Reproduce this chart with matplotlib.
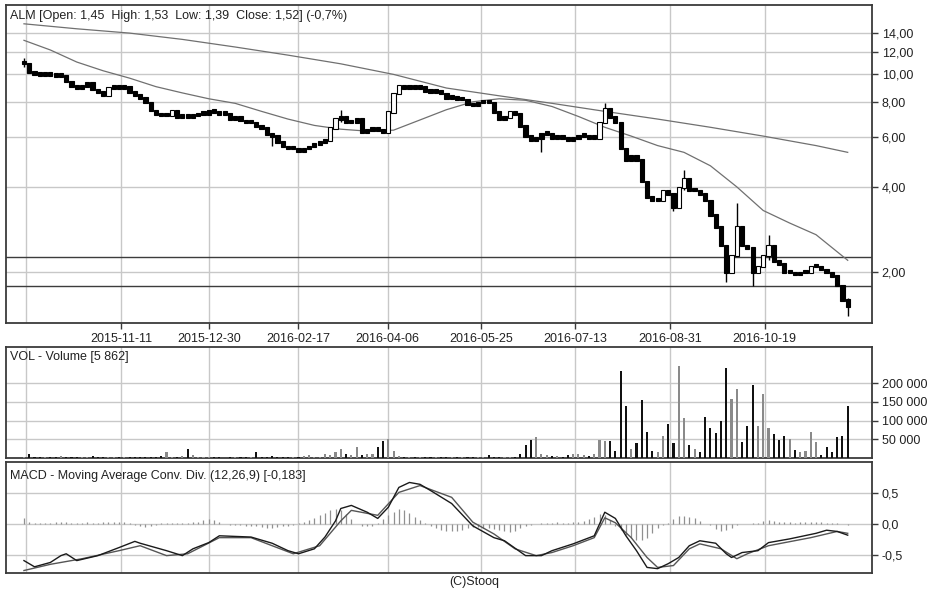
import numpy as np
import matplotlib
matplotlib.use("Agg")
import matplotlib.pyplot as plt

plt.rcParams['font.family'] = ['Liberation Sans', 'DejaVu Sans']

# ---------------- data (2-session bars) ----------------
close = [
    11.0, 10.2, 10.1, 10.0, 10.1, 10.0, 9.9, 9.95, 9.5, 9.1,
    9.0, 9.1, 9.4, 8.9, 8.7, 8.5, 9.0, 9.1, 9.0, 9.1,
    8.7, 8.5, 8.3, 8.0, 7.5, 7.3, 7.2, 7.2, 7.5, 7.1,
    7.2, 7.1, 7.2, 7.3, 7.3, 7.5, 7.4, 7.3, 7.3, 7.0,
    7.1, 6.9, 6.8, 6.8, 6.6, 6.5, 6.2, 6.1, 5.8, 5.6,
    5.5, 5.5, 5.4, 5.5, 5.6, 5.7, 5.8, 5.9, 6.5, 7.0,
    7.1, 6.8, 6.8, 7.0, 6.3, 6.4, 6.5, 6.4, 6.3, 7.4,
    8.6, 9.2, 9.0, 9.1, 9.0, 9.1, 8.8, 8.7, 8.8, 8.6,
    8.3, 8.4, 8.2, 8.2, 7.9, 7.8, 8.0, 8.1, 8.0, 7.4,
    7.0, 7.1, 7.4, 7.3, 6.6, 6.1, 5.9, 6.0, 6.2, 6.2,
    6.0, 6.1, 6.0, 5.9, 6.0, 6.1, 6.1, 6.0, 6.0, 6.8,
    7.6, 7.1, 6.8, 5.5, 5.0, 5.2, 5.0, 4.2, 3.7, 3.6,
    3.6, 3.9, 3.8, 3.4, 4.0, 4.3, 3.9, 3.9, 3.8, 3.6,
    3.2, 2.9, 2.5, 2.0, 2.3, 2.9, 2.5, 2.45, 2.0, 2.1,
    2.3, 2.5, 2.2, 2.15, 2.0, 2.0, 1.97, 2.0, 2.0, 2.1,
    2.1, 2.05, 2.0, 1.95, 1.8, 1.6, 1.52,
]

wick_idx = [0, 47, 60, 98, 110, 123, 125, 133, 135, 138, 141, 156]
wick_high = [11.4, 6.2, 7.5, 6.2, 7.9, 3.8, 4.6, 2.3, 3.5, 2.1, 2.7, 1.62]
wick_low = [10.6, 5.6, 6.8, 5.3, 7.1, 3.3, 3.9, 1.85, 2.5, 1.78, 2.2, 1.40]

ma_long_k = [0, 10, 20, 30, 40, 50, 60, 70, 80, 90, 100, 110, 120, 130, 140, 150, 156]
ma_long = [15.1, 14.5, 14.0, 13.3, 12.5, 11.7, 10.9, 10.0, 8.95, 8.4, 7.9, 7.4,
           6.95, 6.5, 6.05, 5.6, 5.3]

ma_short_k = [0, 5, 10, 15, 20, 25, 30, 35, 40, 45, 50, 55, 60, 65, 70, 75, 80, 85,
              90, 95, 100, 105, 110, 115, 120, 125, 130, 135, 140, 145, 150, 156]
ma_short = [13.2, 12.2, 11.06, 10.3, 9.7, 9.05, 8.6, 8.2, 7.9, 7.4, 6.95, 6.6, 6.4,
            6.3, 6.35, 6.9, 7.5, 8.0, 8.2, 8.1, 7.7, 7.1, 6.5, 6.05, 5.6, 5.3, 4.75,
            4.0, 3.3, 2.98, 2.71, 2.2]

levels = [2.26, 1.78]

volume = [
    3000, 10000, 3000, 2000, 4000, 2000, 3000, 5000, 2000, 3000,
    4000, 2000, 3000, 5000, 2000, 3000, 2000, 4000, 2000, 3000,
    2000, 3000, 4000, 2000, 3000, 3000, 5000, 15000, 3000, 4000,
    5000, 25000, 8000, 3000, 2000, 2000, 3000, 2000, 1000, 2000,
    2000, 3000, 2000, 4000, 15000, 3000, 2000, 5000, 3000, 4000,
    3000, 2000, 3000, 5000, 8000, 3000, 4000, 10000, 8000, 15000,
    25000, 10000, 8000, 30000, 8000, 10000, 12000, 30000, 45000, 50000,
    20000, 5000, 4000, 3000, 2000, 3000, 4000, 3000, 2000, 2000,
    3000, 2000, 4000, 3000, 3000, 2000, 3000, 2000, 8000, 3000,
    2000, 3000, 2000, 4000, 10000, 35000, 48000, 56000, 10000, 8000,
    6000, 5000, 4000, 8000, 10000, 12000, 8000, 6000, 10000, 48000,
    45000, 45000, 20000, 233000, 140000, 25000, 40000, 156000, 70000, 20000,
    15000, 60000, 90000, 40000, 245000, 108000, 35000, 25000, 15000, 110000,
    80000, 67000, 100000, 240000, 158000, 185000, 43000, 85000, 195000, 85000,
    170000, 80000, 65000, 48000, 60000, 50000, 22000, 15000, 20000, 70000,
    42000, 8000, 30000, 15000, 57000, 60000, 140000,
]

macd_k = [0, 2, 5, 7, 8, 10, 14, 18, 21, 22, 27, 30, 32, 35, 37, 40, 43, 47, 50, 52,
          55, 57, 59, 60, 62, 65, 67, 69, 71, 73, 75, 77, 81, 84, 85, 89, 91, 95, 98, 100,
          104, 108, 110, 112, 114, 116, 118, 120, 122, 124, 126, 128, 131, 133, 134, 136,
          139, 141, 145, 150, 152, 154, 156]
macd = [-0.59, -0.69, -0.62, -0.51, -0.48, -0.59, -0.51, -0.38, -0.28, -0.31,
        -0.43, -0.51, -0.40, -0.30, -0.19, -0.20, -0.21, -0.31, -0.43, -0.48,
        -0.40, -0.21, 0.05, 0.25, 0.30, 0.19, 0.09, 0.27, 0.59, 0.67,
        0.64, 0.54, 0.33, 0.06, -0.03, -0.22, -0.27, -0.51, -0.51, -0.43,
        -0.32, -0.19, 0.19, 0.09, -0.19, -0.43, -0.70, -0.72, -0.64, -0.54,
        -0.35, -0.27, -0.31, -0.48, -0.54, -0.46, -0.43, -0.30, -0.24, -0.15,
        -0.10, -0.12, -0.18]

signal_k = [0, 5, 11, 18, 22, 27, 31, 37, 43, 51, 56, 60, 62, 67, 71, 75, 81, 85, 89, 93,
            97, 100, 104, 108, 110, 112, 115, 118, 120, 123, 126, 128, 132, 135, 137, 141,
            149, 154, 156]
signal = [-0.75, -0.65, -0.56, -0.43, -0.35, -0.51, -0.48, -0.22, -0.22, -0.48,
          -0.35, 0.05, 0.22, 0.14, 0.51, 0.62, 0.43, 0.03, -0.16, -0.40,
          -0.51, -0.46, -0.35, -0.22, 0.10, 0.02, -0.22, -0.54, -0.70, -0.67,
          -0.40, -0.32, -0.40, -0.56, -0.48, -0.35, -0.22, -0.12, -0.15]

hist = [
    0.10, 0.04, 0.02, 0.02, 0.01, 0.02, 0.03, 0.04, 0.04, 0.02,
    0.01, 0.02, 0.03, 0.02, 0.02, 0.03, 0.03, 0.04, 0.04, 0.03,
    0.02, -0.01, -0.04, -0.05, -0.04, -0.02, 0.01, 0.02, 0.02, 0.01,
    0.02, 0.02, 0.03, 0.04, 0.06, 0.08, 0.07, 0.03, 0.0, -0.01,
    -0.02, -0.02, -0.03, -0.03, -0.04, -0.05, -0.06, -0.06, -0.05, -0.04,
    -0.03, -0.01, 0.02, 0.04, 0.07, 0.10, 0.14, 0.18, 0.22, 0.24,
    0.22, 0.16, 0.08, 0.0, -0.03, -0.04, -0.03, 0.02, 0.08, 0.14,
    0.20, 0.24, 0.22, 0.18, 0.12, 0.06, 0.02, -0.03, -0.06, -0.09,
    -0.11, -0.12, -0.11, -0.09, -0.07, -0.05, -0.05, -0.06, -0.07, -0.08,
    -0.10, -0.12, -0.13, -0.11, -0.07, -0.04, -0.02, 0.0, 0.01, 0.02,
    0.02, 0.03, 0.02, 0.02, 0.03, 0.04, 0.05, 0.08, 0.12, 0.16,
    0.14, 0.07, -0.03, -0.10, -0.18, -0.22, -0.25, -0.25, -0.22, -0.15,
    -0.06, -0.02, 0.02, 0.08, 0.13, 0.13, 0.12, 0.10, 0.05, 0.0,
    -0.02, -0.08, -0.12, -0.10, -0.06, -0.02, 0.0, 0.0, 0.01, 0.02,
    0.05, 0.07, 0.05, 0.04, 0.03, 0.03, 0.02, 0.03, 0.03, 0.04,
    0.03, 0.03, 0.02, 0.02, 0.01, 0.0, -0.01,
]

date_labels = ["2015-11-11", "2015-12-30", "2016-02-17", "2016-04-06",
               "2016-05-25", "2016-07-13", "2016-08-31", "2016-10-19"]
date_pos = [18.4, 35.0, 51.9, 68.9, 86.6, 104.4, 122.3, 140.3]
extra_grid_pos = [0.4]

price_ticks = [2, 4, 6, 8, 10, 12, 14]
vol_ticks = [50000, 100000, 150000, 200000]
macd_ticks = [-0.5, 0.0, 0.5]

title_price = "ALM [Open: 1,45  High: 1,53  Low: 1,39  Close: 1,52] (-0,7%)"
title_vol = "VOL - Volume [5 862]"
title_macd = "MACD - Moving Average Conv. Div. (12,26,9) [-0,183]"

# ---------------- figure ----------------
W, H = 948, 593
fig = plt.figure(figsize=(W / 100, H / 100), dpi=100)
fig.patch.set_facecolor("white")


def rect(l, t, r, b):
    return [l / W, 1 - b / H, (r - l) / W, (b - t) / H]


ax1 = fig.add_axes(rect(6, 5, 872, 323))
ax2 = fig.add_axes(rect(6, 347, 872, 458), sharex=ax1)
ax3 = fig.add_axes(rect(6, 462, 872, 573), sharex=ax1)

GRID = "#c8c8c8"
SPINE = "#3a3a3a"
FS = 9

for ax in (ax1, ax2, ax3):
    for s in ax.spines.values():
        s.set_color(SPINE)
        s.set_linewidth(1.3)
    ax.yaxis.tick_right()
    ax.set_xticks(date_pos)
    ax.set_xticks(extra_grid_pos, minor=True)
    ax.grid(True, which="both", color=GRID, linewidth=1.0, zorder=0)
    ax.set_axisbelow(True)
    ax.tick_params(axis="y", direction="out", length=4, width=1, color=SPINE,
                   labelsize=FS, pad=3, labelcolor="#222222")
    ax.tick_params(axis="x", which="minor", length=0)
    ax.set_facecolor("white")

ax1.set_xlim(-3.4, 160.6)

# ---- price panel ----
c = np.array(close)
x = np.arange(len(c))
prev = np.r_[c[0], c[:-1]]
lo = np.minimum(prev, c) / 1.012
hi = np.maximum(np.maximum(prev, c), lo * 1.03)
down = c < prev
strong_up = c > prev * 1.04
ax1.vlines(wick_idx, wick_low, wick_high, color="black", linewidth=1.0, zorder=3)
ax1.bar(x, hi - lo, bottom=lo, width=0.8,
        color=np.where(strong_up, "white", "black"), edgecolor="black",
        linewidth=0.8, zorder=4)
ax1.plot(ma_long_k, ma_long, color="#707070", linewidth=0.9, zorder=2)
ax1.plot(ma_short_k, ma_short, color="#707070", linewidth=0.9, zorder=2)
for lv in levels:
    ax1.axhline(lv, color="#3c3c3c", linewidth=1.0, zorder=1)

ax1.set_yscale("log")
ax1.set_ylim(1.32, 17.6)
ax1.set_yticks(price_ticks)
ax1.set_yticklabels([f"{v:.2f}".replace(".", ",") for v in price_ticks])
ax1.yaxis.set_minor_locator(matplotlib.ticker.NullLocator())
ax1.set_xticks(date_pos)
ax1.set_xticklabels(date_labels)
ax1.tick_params(axis="x", which="major", direction="out", length=4, width=1,
                color=SPINE, labelsize=FS, pad=3, labelcolor="#222222")
ax1.text(0.005, 0.965, title_price, transform=ax1.transAxes, fontsize=FS,
         va="center", ha="left", color="#222222", zorder=6)

# ---- volume panel ----
v = np.array(volume)
ax2.bar(x, v, width=0.4, color=np.where(down, "#111111", "#8a8a8a"), zorder=3)
ax2.set_ylim(0, 296000)
ax2.set_yticks(vol_ticks)
ax2.set_yticklabels([f"{t:,}".replace(",", " ") for t in vol_ticks])
ax2.tick_params(axis="x", which="both", length=0, labelbottom=False)
ax2.text(0.005, 0.91, title_vol, transform=ax2.transAxes, fontsize=FS,
         va="center", ha="left", color="#222222", zorder=6)

# ---- MACD panel ----
ax3.vlines(x, 0, hist, color="#909090", linewidth=0.9, zorder=2)
ax3.plot(signal_k, signal, color="#555555", linewidth=1.0, zorder=3)
ax3.plot(macd_k, macd, color="#1a1a1a", linewidth=1.0, zorder=4)
ax3.set_ylim(-0.79, 1.0)
ax3.set_yticks(macd_ticks)
ax3.set_yticklabels([f"{t:.1f}".replace(".", ",") for t in macd_ticks])
ax3.tick_params(axis="x", which="both", length=0, labelbottom=False)
ax3.text(0.005, 0.874, title_macd, transform=ax3.transAxes, fontsize=FS,
         va="center", ha="left", color="#222222", zorder=6)

fig.text(474 / W, 1 - 582 / H, "(C)Stooq", fontsize=FS, ha="center",
         va="center", color="#222222")

fig.savefig("out.png", dpi=100, facecolor="white")
